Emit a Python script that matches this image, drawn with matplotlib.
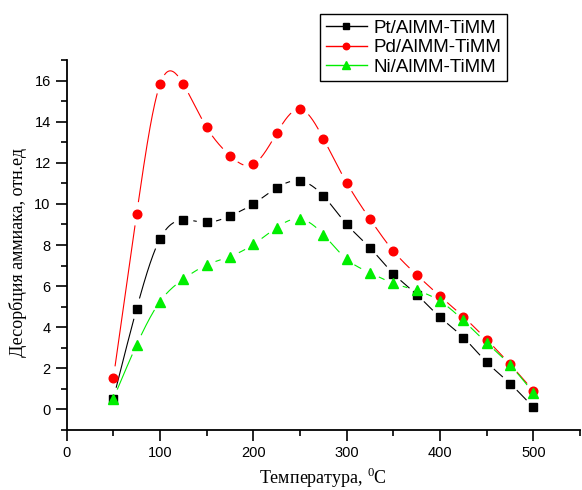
import numpy as np
import matplotlib
matplotlib.use("Agg")
import matplotlib.pyplot as plt
from matplotlib.lines import Line2D
from matplotlib.ticker import MultipleLocator

# Temperature, °C
temperature = [50, 75, 100, 125, 150, 175, 200, 225, 250, 275,
               300, 325, 350, 375, 400, 425, 450, 475, 500]

# Ammonia desorption, rel. units
pt_values = [0.52, 4.91, 8.30, 9.22, 9.10, 9.42, 10.0, 10.78, 11.12, 10.39,
             9.01, 7.86, 6.61, 5.59, 4.49, 3.50, 2.30, 1.26, 0.10]
pd_values = [1.52, 9.52, 15.82, 15.82, 13.72, 12.35, 11.92, 13.44, 14.61, 13.18,
             11.03, 9.26, 7.71, 6.55, 5.51, 4.51, 3.40, 2.20, 0.91]
ni_values = [0.52, 3.15, 5.25, 6.34, 7.03, 7.44, 8.03, 8.85, 9.27, 8.51,
             7.31, 6.65, 6.14, 5.79, 5.27, 4.33, 3.24, 2.16, 0.81]

series_labels = ["Pt/AlMM-TiMM", "Pd/AlMM-TiMM", "Ni/AlMM-TiMM"]
x_label = "Температура, $^0$C"
y_label = "Десорбция аммиака, отн.ед"


def natural_spline(x, y, n=40):
    """Natural cubic spline through (x, y), sampled with n points per interval."""
    x = np.asarray(x, float)
    y = np.asarray(y, float)
    m = len(x)
    h = np.diff(x)
    A = np.zeros((m, m))
    r = np.zeros(m)
    A[0, 0] = A[-1, -1] = 1.0
    for i in range(1, m - 1):
        A[i, i - 1] = h[i - 1]
        A[i, i] = 2 * (h[i - 1] + h[i])
        A[i, i + 1] = h[i]
        r[i] = 6 * ((y[i + 1] - y[i]) / h[i] - (y[i] - y[i - 1]) / h[i - 1])
    M = np.linalg.solve(A, r)
    xs, ys = [], []
    for i in range(m - 1):
        t = np.linspace(x[i], x[i + 1], n, endpoint=(i == m - 2))
        a = x[i + 1] - t
        b = t - x[i]
        s = (M[i] * a ** 3 + M[i + 1] * b ** 3) / (6 * h[i]) \
            + (y[i] / h[i] - M[i] * h[i] / 6) * a \
            + (y[i + 1] / h[i] - M[i + 1] * h[i] / 6) * b
        xs.append(t)
        ys.append(s)
    return np.concatenate(xs), np.concatenate(ys)


plt.rcParams["font.family"] = ["Liberation Sans", "DejaVu Sans"]
plt.rcParams["mathtext.fontset"] = "custom"
plt.rcParams["mathtext.rm"] = "Liberation Serif"

fig = plt.figure(figsize=(5.82, 4.90), dpi=100)
ax = fig.add_axes([66.7 / 582, 1 - 430 / 490, (580 - 66.7) / 582, 370 / 490])
ax.set_xlim(0, 550)
ax.set_ylim(-1, 17)

styles = [
    dict(color="black", marker="s", ms=5.6),
    dict(color="red", marker="o", ms=6.2),
    dict(color="#00ee00", marker="^", ms=7.2),
]
gap_px = 10

fig.canvas.draw()
for vals, st in zip([pt_values, pd_values, ni_values], styles):
    xs, ys = natural_spline(temperature, vals)
    # leave a small gap in the connecting line around each data point
    line_px = ax.transData.transform(np.column_stack([xs, ys]))
    pts_px = ax.transData.transform(np.column_stack([temperature, vals]))
    d = np.sqrt(((line_px[:, None, :] - pts_px[None, :, :]) ** 2).sum(-1)).min(axis=1)
    ys_masked = np.where(d < gap_px, np.nan, ys)
    ax.plot(xs, ys_masked, color=st["color"], lw=0.8, zorder=2)
    ax.plot(temperature, vals, ls="none", marker=st["marker"], ms=st["ms"],
            color=st["color"], mec=st["color"], zorder=3)

for side in ("top", "right"):
    ax.spines[side].set_visible(False)
for side in ("left", "bottom"):
    ax.spines[side].set_linewidth(1.3)

ax.xaxis.set_major_locator(MultipleLocator(100))
ax.xaxis.set_minor_locator(MultipleLocator(50))
ax.yaxis.set_major_locator(MultipleLocator(2))
ax.yaxis.set_minor_locator(MultipleLocator(1))
ax.tick_params(which="major", direction="out", length=8, width=1.2, labelsize=10.5)
ax.tick_params(which="minor", direction="out", length=4.5, width=1.2)
ax.set_yticks(np.arange(0, 17, 2))

serif = ["Liberation Serif", "DejaVu Serif"]
fig.text(323 / 582, 1 - 484 / 490, x_label, family=serif, fontsize=13,
         ha="center", va="baseline")
fig.text(18 / 582, 1 - 252 / 490, y_label, family=serif, fontsize=13,
         rotation=90, ha="center", va="center")

handles = [Line2D([], [], color=st["color"], lw=1.0, marker=st["marker"],
                  ms=st["ms"] * 0.75, mec=st["color"]) for st in styles]
leg = fig.legend(handles, series_labels, loc="upper left",
                 bbox_to_anchor=(320 / 582, 1 - 14 / 490),
                 fontsize=13.5, frameon=True, fancybox=False, framealpha=1,
                 edgecolor="black", handlelength=2.2, handletextpad=0.35,
                 labelspacing=0.12, borderpad=0.3, borderaxespad=0)
leg.get_frame().set_linewidth(1.0)

fig.savefig("out.png", dpi=100)
